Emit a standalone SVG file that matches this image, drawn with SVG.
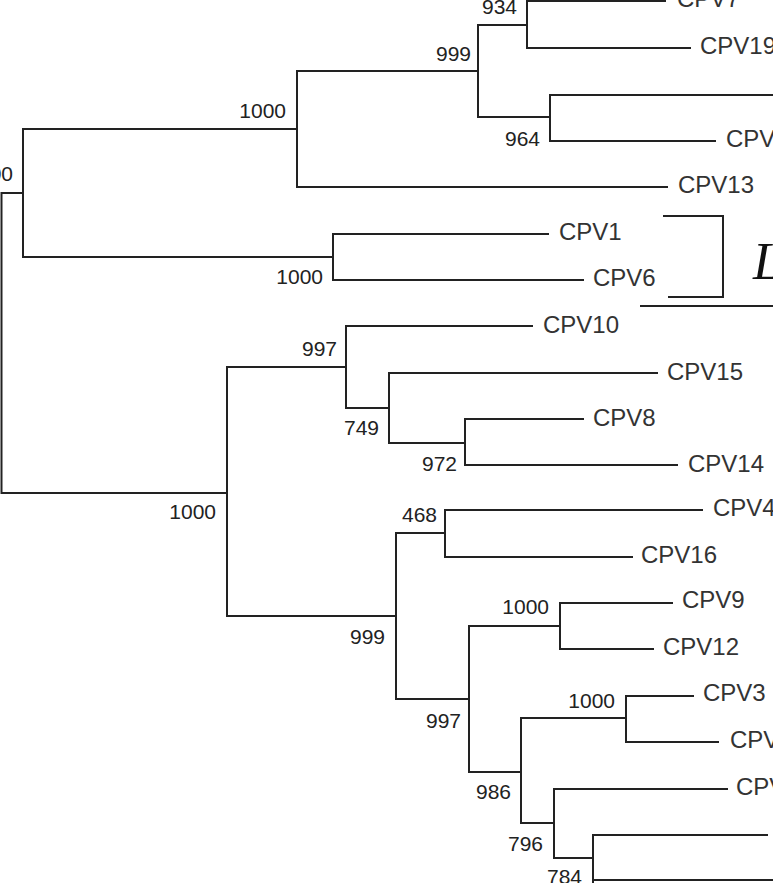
<svg xmlns="http://www.w3.org/2000/svg" width="773" height="883" viewBox="0 0 773 883">
<style>
.br{fill:none;stroke:#222;stroke-width:2;stroke-linecap:square}
.bs{font-family:"Liberation Sans",Arial,sans-serif;font-size:21px;fill:#222;text-anchor:end}
.tip{font-family:"Liberation Sans",Arial,sans-serif;font-size:24px;fill:#333}
.big{font-family:"Liberation Serif","Times New Roman",serif;font-size:52px;font-style:italic;fill:#111}
</style>
<rect width="773" height="883" fill="#fff"/>
<g id="connectors" class="br">
<path d="M1.5 193V493M1.5 193H23M1.5 493H227"/>
<path d="M23 129V257M23 129H297M23 257H333"/>
<path d="M297 71V187M297 71H478M297 187H667"/>
<path d="M478 25V117M478 25H527M478 117H550"/>
<path d="M527 1V48M527 1H665M527 48H690"/>
<path d="M550 95V141M550 95H773M550 141H715"/>
<path d="M333 234V280M333 234H548M333 280H583"/>
<path d="M227 367V616M227 367H346M227 616H396"/>
<path d="M346 326V408M346 326H532M346 408H389"/>
<path d="M389 373V443M389 373H657M389 443H465"/>
<path d="M465 419V465M465 419H583M465 465H677"/>
<path d="M396 533V699M396 533H445M396 699H469"/>
<path d="M445 510V557M445 510H702M445 557H632"/>
<path d="M469 626V772M469 626H560M469 772H521"/>
<path d="M560 603V649M560 603H672M560 649H653"/>
<path d="M521 718V823M521 718H626M521 823H554"/>
<path d="M626 696V742M626 696H693M626 742H718"/>
<path d="M554 789V858M554 789H727M554 858H593"/>
<path d="M593 835V883M593 835H767M593 880H773"/>
</g>
<g id="bracket" class="br">
<path d="M663 216H723V297H668" stroke-linecap="butt"/>
<path d="M641 306H773"/>
</g>
<g id="label-L"><text class="big" x="753" y="279">L</text></g>
<g id="support">
<text class="bs" x="13" y="181">1000</text>
<text class="bs" x="286" y="118">1000</text>
<text class="bs" x="323" y="284">1000</text>
<text class="bs" x="471" y="61">999</text>
<text class="bs" x="517" y="14">934</text>
<text class="bs" x="540" y="146">964</text>
<text class="bs" x="216" y="519">1000</text>
<text class="bs" x="337" y="356">997</text>
<text class="bs" x="379" y="435">749</text>
<text class="bs" x="457" y="471">972</text>
<text class="bs" x="437" y="522">468</text>
<text class="bs" x="385" y="644">999</text>
<text class="bs" x="461" y="728">997</text>
<text class="bs" x="549" y="614">1000</text>
<text class="bs" x="511" y="799">986</text>
<text class="bs" x="615" y="708">1000</text>
<text class="bs" x="543" y="851">796</text>
<text class="bs" x="582" y="884">784</text>
</g>
<g id="tip-CPV7"><text class="tip" x="677" y="7">CPV7</text></g>
<g id="tip-CPV19"><text class="tip" x="700" y="54">CPV19</text></g>
<g id="tip-CPVa"><text class="tip" x="726" y="147">CPV</text></g>
<g id="tip-CPV13"><text class="tip" x="678" y="193">CPV13</text></g>
<g id="tip-CPV1"><text class="tip" x="559" y="240">CPV1</text></g>
<g id="tip-CPV6"><text class="tip" x="593" y="286">CPV6</text></g>
<g id="tip-CPV10"><text class="tip" x="543" y="333">CPV10</text></g>
<g id="tip-CPV15"><text class="tip" x="667" y="380">CPV15</text></g>
<g id="tip-CPV8"><text class="tip" x="593" y="426">CPV8</text></g>
<g id="tip-CPV14"><text class="tip" x="688" y="472">CPV14</text></g>
<g id="tip-CPV4"><text class="tip" x="713" y="516">CPV4</text></g>
<g id="tip-CPV16"><text class="tip" x="641" y="563">CPV16</text></g>
<g id="tip-CPV9"><text class="tip" x="682" y="608">CPV9</text></g>
<g id="tip-CPV12"><text class="tip" x="663" y="655">CPV12</text></g>
<g id="tip-CPV3"><text class="tip" x="703" y="701">CPV3</text></g>
<g id="tip-CPVb"><text class="tip" x="730" y="748">CPV</text></g>
<g id="tip-CPVc"><text class="tip" x="736" y="795">CPV</text></g>
</svg>
